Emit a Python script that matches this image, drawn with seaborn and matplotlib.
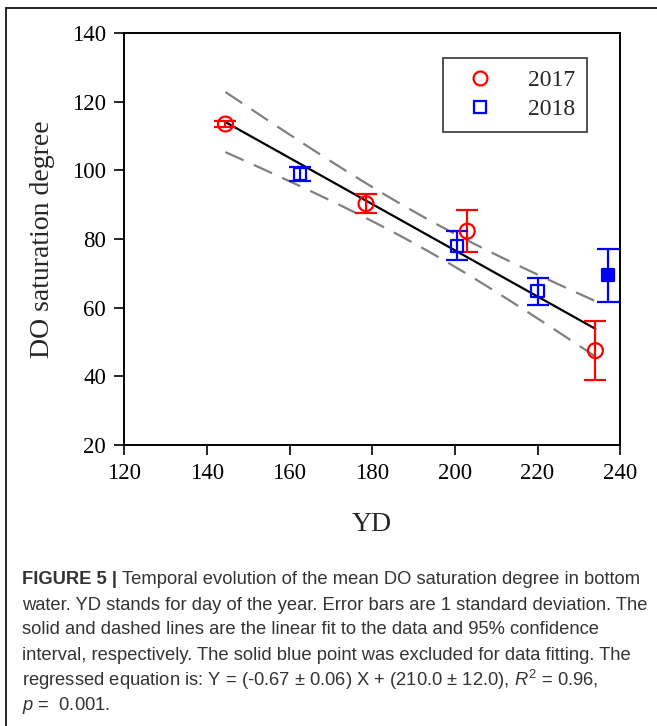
import numpy as np
import seaborn as sns
import matplotlib.pyplot as plt
from matplotlib.lines import Line2D

# 2017 survey (open red circles)
yd_2017 = [144.5, 178.5, 203.0, 234.0]
do_2017 = [113.5, 90.3, 82.3, 47.5]
sd_2017 = [1.0, 2.8, 6.2, 8.5]

# 2018 survey (open blue squares), last one is excluded from the fit
yd_2018 = [162.5, 200.5, 220.0]
do_2018 = [99.0, 78.0, 64.8]
sd_2018 = [2.0, 4.2, 3.9]

yd_excl = [237.0]
do_excl = [69.4]
sd_excl = [7.6]

x_ticks = [120, 140, 160, 180, 200, 220, 240]
y_ticks = [20, 40, 60, 80, 100, 120, 140]

T_95 = 2.571  # Student t, df = 5

sns.set_style("ticks")
plt.rcParams["font.family"] = ["Liberation Serif", "DejaVu Serif"]
plt.rcParams["mathtext.fontset"] = "custom"
plt.rcParams["mathtext.rm"] = "Liberation Sans"
plt.rcParams["mathtext.it"] = "Liberation Sans:italic"

fig = plt.figure(figsize=(6.57, 7.26), dpi=100)
ax = fig.add_axes([0.189, 0.387, 0.755, 0.5675])

# linear fit and 95% confidence interval of the mean
x_fit = np.array(yd_2017 + yd_2018)
y_fit = np.array(do_2017 + do_2018)
slope, intercept = np.polyfit(x_fit, y_fit, 1)
n = len(x_fit)
resid = y_fit - (slope * x_fit + intercept)
s = np.sqrt(np.sum(resid ** 2) / (n - 2))
sxx = np.sum((x_fit - x_fit.mean()) ** 2)
xs = np.linspace(x_fit.min(), x_fit.max(), 100)
ys = slope * xs + intercept
half = T_95 * s * np.sqrt(1 / n + (xs - x_fit.mean()) ** 2 / sxx)

sns.lineplot(x=xs, y=ys, color="black", lw=1.6, ax=ax, zorder=2)
for band in (ys + half, ys - half):
    sns.lineplot(x=xs, y=band, color="#808080", lw=1.6, ax=ax,
                 dashes=False, zorder=2).lines[-1].set_dashes((9, 5))

# error bars
ax.errorbar(yd_2017, do_2017, yerr=sd_2017, fmt="none", ecolor="red",
            elinewidth=1.6, capsize=8, capthick=1.6, zorder=3)
ax.errorbar(yd_2018 + yd_excl, do_2018 + do_excl, yerr=sd_2018 + sd_excl,
            fmt="none", ecolor="blue", elinewidth=1.6, capsize=8,
            capthick=1.6, zorder=3)

# markers
sns.scatterplot(x=yd_2017, y=do_2017, marker="o", s=115, facecolors="none",
                edgecolor="red", linewidth=1.6, ax=ax, zorder=4)
sns.scatterplot(x=yd_2018, y=do_2018, marker="s", s=80, facecolors="none",
                edgecolor="blue", linewidth=1.6, ax=ax, zorder=4)
sns.scatterplot(x=yd_excl, y=do_excl, marker="s", s=80, color="blue",
                edgecolor="blue", linewidth=1.6, ax=ax, zorder=4)

ax.set_xlim(120, 240)
ax.set_ylim(20, 140)
ax.set_xticks(x_ticks, labels=[str(t) for t in x_ticks])
ax.set_yticks(y_ticks, labels=[str(t) for t in y_ticks])
ax.tick_params(axis="both", labelsize=16.5, length=7, width=1.2, pad=6,
               direction="out", colors="black")
for lab in ax.get_xticklabels() + ax.get_yticklabels():
    lab.set_fontfamily(["Liberation Serif"])
for sp in ax.spines.values():
    sp.set_linewidth(1.4)
    sp.set_color("black")
ax.set_xlabel("YD", fontsize=20, labelpad=20)
ax.set_ylabel("DO saturation degree", fontsize=20, labelpad=12)

handles = [
    Line2D([], [], marker="o", ls="none", ms=10, mfc="none", mec="red", mew=1.6),
    Line2D([], [], marker="s", ls="none", ms=9, mfc="none", mec="blue", mew=1.6),
]
leg = ax.legend(handles, ["2017", "2018"], loc="upper left",
                bbox_to_anchor=(0.643, 0.939), frameon=True,
                fancybox=False, edgecolor="black", borderpad=0.5,
                handlelength=2.1, handletextpad=1.0, labelspacing=0.3,
                borderaxespad=0, prop={"family": "Liberation Serif", "size": 17})
leg.get_frame().set_linewidth(1.2)

# outer figure frame (left and top edges)
fig.add_artist(Line2D([0.009, 0.009], [0, 0.989], color="black", lw=1.2,
                      transform=fig.transFigure))
fig.add_artist(Line2D([0.009, 1], [0.989, 0.989], color="black", lw=1.2,
                      transform=fig.transFigure))

# caption
cap_font = ["Liberation Sans Narrow", "Liberation Sans", "DejaVu Sans"]
cap_color = "#333333"
cap_size = 13.2
x0 = 22 / 657
lines_y = [580, 605, 630, 655, 680, 705]
caption = [
    "Temporal evolution of the mean DO saturation degree in bottom",
    "water. YD stands for day of the year. Error bars are 1 standard deviation. The",
    "solid and dashed lines are the linear fit to the data and 95% confidence",
    "interval, respectively. The solid blue point was excluded for data fitting. The",
    "regressed equation is: Y = (-0.67 \u00b1 0.06) X + (210.0 \u00b1 12.0), $R^2$ = 0.96,",
    "$p$ =  0.001.",
]
renderer = fig.canvas.get_renderer()
head = fig.text(x0, 1 - lines_y[0] / 726, "FIGURE 5 | ", family=cap_font,
                fontsize=cap_size, weight="bold", color=cap_color, va="center")
bb = head.get_window_extent(renderer)
fig.text(bb.x1 / fig.bbox.width, 1 - lines_y[0] / 726, caption[0],
         family=cap_font, fontsize=cap_size, color=cap_color, va="center")
for yy, txt in zip(lines_y[1:], caption[1:]):
    fig.text(x0, 1 - yy / 726, txt, family=cap_font, fontsize=cap_size,
             color=cap_color, va="center")

fig.savefig("out.png", dpi=100)
